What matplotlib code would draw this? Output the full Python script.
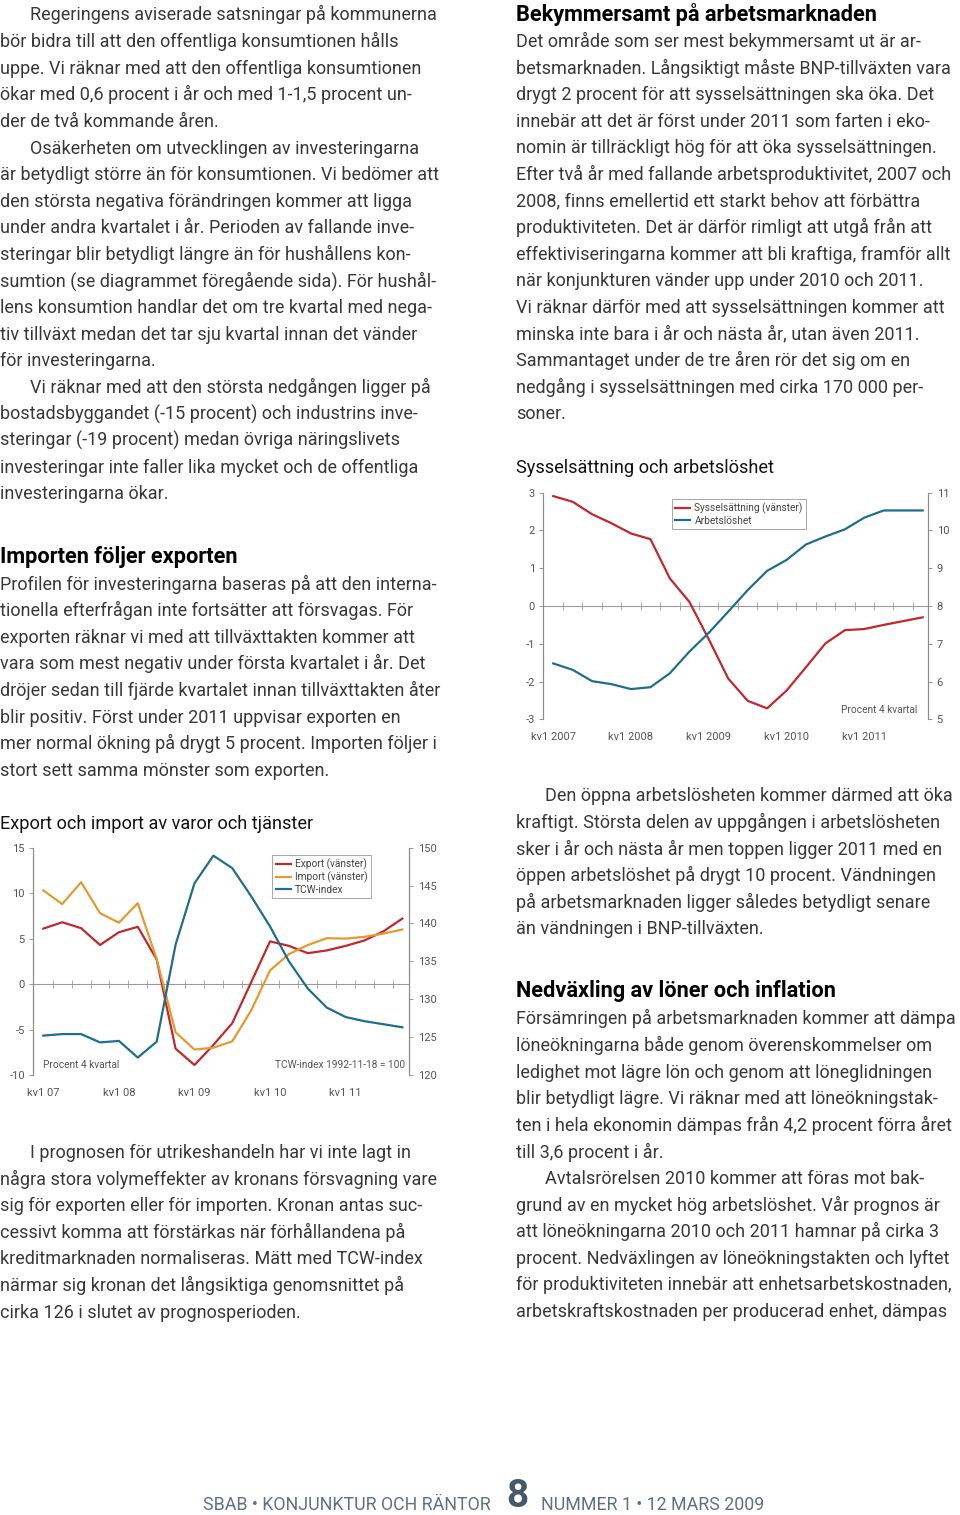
import numpy as np
import matplotlib
matplotlib.use("Agg")
import matplotlib.pyplot as plt
from matplotlib.lines import Line2D

plt.rcParams["axes.unicode_minus"] = False

W, H = 960, 1515
FONT = ["Roboto", "DejaVu Sans"]
TXT = "#383838"

# --- data: export/import (procent 4 kvartal) and TCW-index, kv1 2007 - kv4 2011
quarters = np.arange(20)
export = [6.1, 6.8, 6.15, 4.3, 5.7, 6.3, 2.7, -7.1, -8.9, -6.7,
          -4.3, 0.2, 4.7, 4.2, 3.4, 3.7, 4.2, 4.8, 5.8, 7.2]
imports = [10.3, 8.8, 11.2, 7.8, 6.75, 8.9, 2.75, -5.3, -7.2, -7.0,
           -6.3, -2.9, 1.5, 3.3, 4.3, 5.05, 5.0, 5.2, 5.55, 6.0]
tcw = [125.2, 125.4, 125.4, 124.3, 124.5, 122.3, 124.4, 137.2, 145.3, 148.95,
       147.3, 143.6, 139.6, 135.0, 131.4, 128.9, 127.65, 127.1, 126.7, 126.3]
trade_xlabels = ["kv1 07", "kv1 08", "kv1 09", "kv1 10", "kv1 11"]

# --- data: sysselsättning (vänster) and arbetslöshet (höger)
employment = [2.91, 2.76, 2.43, 2.19, 1.92, 1.77, 0.73, 0.11, -0.88, -1.92,
              -2.51, -2.71, -2.24, -1.62, -0.99, -0.64, -0.61, -0.50, -0.40, -0.30]
unemployment = [6.48, 6.31, 6.01, 5.93, 5.80, 5.85, 6.22, 6.79, 7.29, 7.85,
                8.42, 8.93, 9.22, 9.63, 9.84, 10.03, 10.34, 10.53, 10.53, 10.53]
labour_xlabels = ["kv1 2007", "kv1 2008", "kv1 2009", "kv1 2010", "kv1 2011"]

RED, ORANGE, TEAL = "#c0282e", "#e39a2f", "#1f6e8c"

left_col = [
    (30, "Regeringens aviserade satsningar på kommunerna"),
    (0, "bör bidra till att den offentliga konsumtionen hålls"),
    (0, "uppe. Vi räknar med att den offentliga konsumtionen"),
    (0, "ökar med 0,6 procent i år och med 1-1,5 procent un-"),
    (0, "der de två kommande åren."),
    (30, "Osäkerheten om utvecklingen av investeringarna"),
    (0, "är betydligt större än för konsumtionen. Vi bedömer att"),
    (0, "den största negativa förändringen kommer att ligga"),
    (0, "under andra kvartalet i år. Perioden av fallande inve-"),
    (0, "steringar blir betydligt längre än för hushållens kon-"),
    (0, "sumtion (se diagrammet föregående sida). För hushål-"),
    (0, "lens konsumtion handlar det om tre kvartal med nega-"),
    (0, "tiv tillväxt medan det tar sju kvartal innan det vänder"),
    (0, "för investeringarna."),
    (30, "Vi räknar med att den största nedgången ligger på"),
    (0, "bostadsbyggandet (-15 procent) och industrins inve-"),
    (0, "steringar (-19 procent) medan övriga näringslivets"),
    (0, "investeringar inte faller lika mycket och de offentliga"),
    (0, "investeringarna ökar."),
]
import_col = [
    "Profilen för investeringarna baseras på att den interna-",
    "tionella efterfrågan inte fortsätter att försvagas. För",
    "exporten räknar vi med att tillväxttakten kommer att",
    "vara som mest negativ under första kvartalet i år. Det",
    "dröjer sedan till fjärde kvartalet innan tillväxttakten åter",
    "blir positiv. Först under 2011 uppvisar exporten en",
    "mer normal ökning på drygt 5 procent. Importen följer i",
    "stort sett samma mönster som exporten.",
]
prognos_col = [
    (30, "I prognosen för utrikeshandeln har vi inte lagt in"),
    (0, "några stora volymeffekter av kronans försvagning vare"),
    (0, "sig för exporten eller för importen. Kronan antas suc-"),
    (0, "cessivt komma att förstärkas när förhållandena på"),
    (0, "kreditmarknaden normaliseras. Mätt med TCW-index"),
    (0, "närmar sig kronan det långsiktiga genomsnittet på"),
    (0, "cirka 126 i slutet av prognosperioden."),
]
arbets_col = [
    "Det område som ser mest bekymmersamt ut är ar-",
    "betsmarknaden. Långsiktigt måste BNP-tillväxten vara",
    "drygt 2 procent för att sysselsättningen ska öka. Det",
    "innebär att det är först under 2011 som farten i eko-",
    "nomin är tillräckligt hög för att öka sysselsättningen.",
    "Efter två år med fallande arbetsproduktivitet, 2007 och",
    "2008, finns emellertid ett starkt behov att förbättra",
    "produktiviteten. Det är därför rimligt att utgå från att",
    "effektiviseringarna kommer att bli kraftiga, framför allt",
    "när konjunkturen vänder upp under 2010 och 2011.",
    "Vi räknar därför med att sysselsättningen kommer att",
    "minska inte bara i år och nästa år, utan även 2011.",
    "Sammantaget under de tre åren rör det sig om en",
    "nedgång i sysselsättningen med cirka 170 000 per-",
    "soner.",
]
oppna_col = [
    (29, "Den öppna arbetslösheten kommer därmed att öka"),
    (0, "kraftigt. Största delen av uppgången i arbetslösheten"),
    (0, "sker i år och nästa år men toppen ligger 2011 med en"),
    (0, "öppen arbetslöshet på drygt 10 procent. Vändningen"),
    (0, "på arbetsmarknaden ligger således betydligt senare"),
    (0, "än vändningen i BNP-tillväxten."),
]
loner_col = [
    (0, "Försämringen på arbetsmarknaden kommer att dämpa"),
    (0, "löneökningarna både genom överenskommelser om"),
    (0, "ledighet mot lägre lön och genom att löneglidningen"),
    (0, "blir betydligt lägre. Vi räknar med att löneökningstak-"),
    (0, "ten i hela ekonomin dämpas från 4,2 procent förra året"),
    (0, "till 3,6 procent i år."),
    (29, "Avtalsrörelsen 2010 kommer att föras mot bak-"),
    (0, "grund av en mycket hög arbetslöshet. Vår prognos är"),
    (0, "att löneökningarna 2010 och 2011 hamnar på cirka 3"),
    (0, "procent. Nedväxlingen av löneökningstakten och lyftet"),
    (0, "för produktiviteten innebär att enhetsarbetskostnaden,"),
    (0, "arbetskraftskostnaden per producerad enhet, dämpas"),
]

fig = plt.figure(figsize=(W / 100, H / 100), dpi=100)
renderer = fig.canvas.get_renderer()


def put(x, y, s, **kw):
    kw.setdefault("family", FONT)
    return fig.text(x / W, 1 - y / H, s, **kw)


def fit_size(s, target, **kw):
    t = put(0, 0, s, fontsize=10, **kw)
    w = t.get_window_extent(renderer).width
    t.remove()
    return 10 * target / w


# widths of a few long lines measured on the page
BODY = min(fit_size("Efter två år med fallande arbetsproduktivitet, 2007 och", 442),
           fit_size("Försämringen på arbetsmarknaden kommer att dämpa", 438),
           fit_size("ten i hela ekonomin dämpas från 4,2 procent förra året", 440),
           fit_size("dröjer sedan till fjärde kvartalet innan tillväxttakten åter", 440))
HEAD = fit_size("Bekymmersamt på arbetsmarknaden", 362, weight="bold")
CAPT = fit_size("Export och import av varor och tjänster", 313)
LEAD = 26.6


def block(x0, y0, lines):
    for i, (ind, s) in enumerate(lines):
        put(x0 + ind, y0 + i * LEAD, s, fontsize=BODY, color=TXT, va="baseline")


# left column
block(0, 20.5, left_col)
put(0, 563.5, "Importen följer exporten", fontsize=HEAD, weight="bold", color="black", va="baseline")
block(0, 589.5, [(0, s) for s in import_col])
put(0, 829, "Export och import av varor och tjänster", fontsize=CAPT, color="#111111", va="baseline")
block(0, 1158, prognos_col)

# right column
put(516, 20.5, "Bekymmersamt på arbetsmarknaden", fontsize=HEAD, weight="bold", color="black", va="baseline")
block(516, 47, [(0, s) for s in arbets_col])
put(516, 473, "Sysselsättning och arbetslöshet", fontsize=CAPT, color="#111111", va="baseline")
block(516, 801.5, oppna_col)
put(516, 997.5, "Nedväxling av löner och inflation", fontsize=HEAD, weight="bold", color="black", va="baseline")
block(516, 1024.5, loner_col)

# footer
FOOT = fit_size("SBAB • KONJUNKTUR OCH RÄNTOR", 285)
put(491, 1510, "SBAB • KONJUNKTUR OCH RÄNTOR", fontsize=FOOT, color="#5d7183", ha="right", va="baseline")
put(517, 1507, "8", fontsize=28, weight="bold", color="#46596b", ha="center", va="baseline")
put(541, 1510, "NUMMER 1 • 12 MARS 2009", fontsize=FOOT, color="#5d7183", ha="left", va="baseline")


def style_axes(ax, ax2, xlabels):
    for a in (ax, ax2):
        for side in ("top", "bottom"):
            a.spines[side].set_visible(False)
        for side in ("left", "right"):
            a.spines[side].set_color("#8c8c8c")
            a.spines[side].set_linewidth(0.8)
        a.tick_params(axis="y", direction="out", length=3, width=0.6, color="#8c8c8c",
                      pad=3, labelsize=8, labelcolor="#555555")
        for lab in a.get_yticklabels():
            lab.set_family(FONT)
    ax.set_xticks(quarters[::4])
    ax.set_xticklabels(xlabels, family=FONT)
    ax.tick_params(axis="x", length=0, pad=9, labelsize=8, labelcolor="#555555")
    ax.axhline(0, color="#9a9a9a", lw=0.8, zorder=1)
    ax.plot(quarters[:-1] + 0.5, np.zeros(19), ls="none", marker="|",
            ms=6, mew=0.6, color="#9a9a9a", zorder=1)
    ax.patch.set_visible(False)


# --- chart 1: export / import / TCW
ax = fig.add_axes([33.3 / W, 1 - 1075 / H, 376 / W, 227.3 / H])
ax2 = ax.twinx()
ax.plot(quarters, export, color=RED, lw=1.6, zorder=3)
ax.plot(quarters, imports, color=ORANGE, lw=1.6, zorder=3)
ax2.plot(quarters, tcw, color=TEAL, lw=1.6)
ax.set_xlim(-0.53, 19.37)
ax.set_ylim(-10, 15)
ax2.set_ylim(120, 150)
ax.set_yticks(range(-10, 16, 5))
ax2.set_yticks(range(120, 151, 5))
style_axes(ax, ax2, trade_xlabels)
handles = [Line2D([], [], color=c, lw=1.6) for c in (RED, ORANGE, TEAL)]
leg = ax2.legend(handles, ["Export (vänster)", "Import (vänster)", "TCW-index"],
                 loc="upper left", bbox_to_anchor=(0.622, 0.99), fancybox=False,
                 framealpha=1, edgecolor="#999999", handlelength=1.5, handletextpad=0.4,
                 borderpad=0.35, labelspacing=0.15, prop={"family": FONT, "size": 7.3})
leg.get_frame().set_linewidth(0.6)
for t in leg.get_texts():
    t.set_color("#444444")
ax2.text(0.026, 0.044, "Procent 4 kvartal", transform=ax2.transAxes, fontsize=7.3,
         color="#555555", va="center", family=FONT)
ax2.text(0.988, 0.044, "TCW-index 1992-11-18 = 100", transform=ax2.transAxes, fontsize=7.3,
         color="#555555", va="center", ha="right", family=FONT)

# --- chart 2: sysselsättning / arbetslöshet
bx = fig.add_axes([543.3 / W, 1 - 719.3 / H, 385 / W, 226.6 / H])
bx2 = bx.twinx()
bx.plot(quarters, employment, color=RED, lw=1.6, zorder=3)
bx2.plot(quarters, unemployment, color=TEAL, lw=1.6)
bx.set_xlim(-0.51, 19.29)
bx.set_ylim(-3, 3)
bx2.set_ylim(5, 11)
bx.set_yticks(range(-3, 4))
bx2.set_yticks(range(5, 12))
style_axes(bx, bx2, labour_xlabels)
handles = [Line2D([], [], color=c, lw=1.6) for c in (RED, TEAL)]
leg = bx2.legend(handles, ["Sysselsättning (vänster)", "Arbetslöshet"],
                 loc="upper left", bbox_to_anchor=(0.32, 0.994), fancybox=False,
                 framealpha=1, edgecolor="#999999", handlelength=1.5, handletextpad=0.4,
                 borderpad=0.35, labelspacing=0.15, prop={"family": FONT, "size": 7.3})
leg.get_frame().set_linewidth(0.6)
for t in leg.get_texts():
    t.set_color("#444444")
bx2.text(0.971, 0.041, "Procent 4 kvartal", transform=bx2.transAxes, fontsize=7.3,
         color="#555555", va="center", ha="right", family=FONT)

fig.savefig("out.png", dpi=100)
